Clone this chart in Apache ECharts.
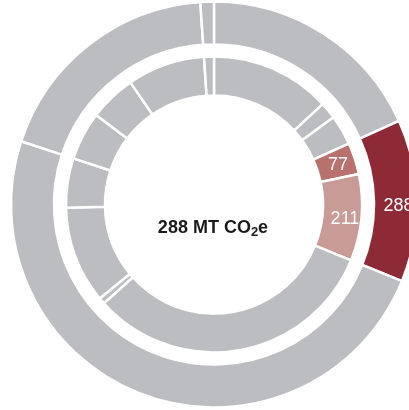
<!DOCTYPE html>
<html>
<head>
<meta charset="utf-8">
<style>
  html, body { margin: 0; padding: 0; background: #ffffff; }
  #chart { width: 409px; height: 410px; }
</style>
<script src="https://cdn.jsdelivr.net/npm/echarts@6/dist/echarts.min.js"></script>
</head>
<body>
<div id="chart"></div>
<script>
// Emissions breakdown, MT CO2e, clockwise from 12 o'clock
const innerCategories = ['I1', 'I2', 'I3', 'I4', 'I5', 'I6', 'I7', 'I8', 'I9', 'I10', 'I11', 'I12', 'I13'];
const innerValues = [293, 41, 73, 77, 211, 718, 15, 237, 120, 118, 114, 189, 24];
const innerShown = [false, false, false, true, true, false, false, false, false, false, false, false, false];

const outerCategories = ['O1', 'O2', 'O3', 'O4', 'O5'];
const outerValues = [407, 288, 1090, 421, 24];
const outerShown = [false, true, false, false, false];

const centerText = ['288 MT CO', '2', 'e'];

const GRAY = '#bcbdc0';
const innerColors = [GRAY, GRAY, GRAY, '#b8716d', '#c99b96', GRAY, GRAY, GRAY, GRAY, GRAY, GRAY, GRAY, GRAY];
const outerColors = [GRAY, '#8e2a36', GRAY, GRAY, GRAY];

// small label nudges (px) for the labelled sectors
const innerOffsets = { 3: [-1, 1], 4: [0, 3] };
const outerOffsets = { 1: [0, 5] };

const FONT = '"Liberation Sans", Arial, Helvetica, sans-serif';

function buildData(names, values, colors, shown, offsets) {
  return values.map((v, i) => ({
    name: names[i],
    value: v,
    itemStyle: { color: colors[i] },
    label: { show: shown[i], offset: offsets[i] || [0, 0] }
  }));
}

const chart = echarts.init(document.getElementById('chart'), null, { renderer: 'canvas' });

const ringBase = {
  type: 'pie',
  center: [214, 204.5],
  startAngle: 90,
  clockwise: true,
  avoidLabelOverlap: false,
  silent: true,
  labelLine: { show: false },
  itemStyle: { borderColor: '#ffffff', borderWidth: 2.5 },
  label: {
    position: 'inside',
    color: '#ffffff',
    fontFamily: FONT,
    fontSize: 18,
    formatter: '{c}'
  },
  emphasis: { disabled: true }
};

chart.setOption({
  animation: false,
  series: [
    Object.assign({}, ringBase, {
      name: 'inner',
      radius: [109, 148],
      data: buildData(innerCategories, innerValues, innerColors, innerShown, innerOffsets)
    }),
    Object.assign({}, ringBase, {
      name: 'outer',
      radius: [160, 203],
      data: buildData(outerCategories, outerValues, outerColors, outerShown, outerOffsets)
    })
  ],
  graphic: [{
    type: 'text',
    x: 213,
    y: 228,
    style: {
      text: '{a|' + centerText[0] + '}{b|' + centerText[1] + '}{a|' + centerText[2] + '}',
      align: 'center',
      verticalAlign: 'middle',
      rich: {
        a: { fontFamily: FONT, fontWeight: 'bold', fontSize: 18, fill: '#1a1a1a', lineHeight: 22 },
        b: { fontFamily: FONT, fontWeight: 'bold', fontSize: 13, fill: '#1a1a1a', lineHeight: 22, verticalAlign: 'bottom', padding: [7, 0, 0, 0] }
      }
    }
  }]
});
</script>
</body>
</html>
